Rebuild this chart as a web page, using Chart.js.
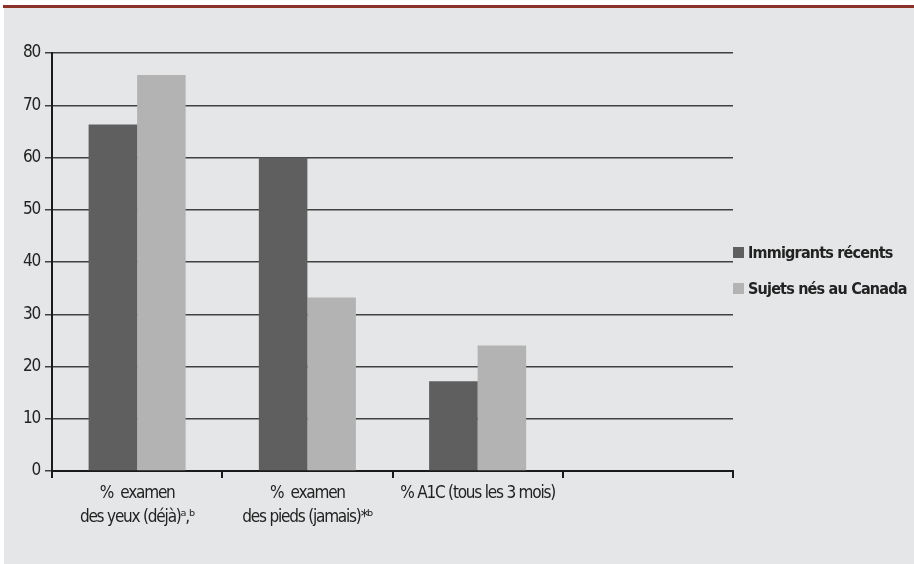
<!DOCTYPE html>
<html>
<head>
<meta charset="utf-8">
<script src="https://cdn.jsdelivr.net/npm/chart.js@4"></script>
<style>
  html, body { margin: 0; padding: 0; background: #fff; }
  #wrap { position: relative; width: 914px; height: 564px; }
  #legend { position: absolute; left: 733px; top: 234px; font-family: "Liberation Sans Narrow", "DejaVu Sans Condensed", sans-serif; font-size: 16px; font-weight: bold; letter-spacing: -0.8px; color: #222; }
  #legend div { display: flex; align-items: center; height: 36px; white-space: nowrap; }
  #legend span { display: inline-block; width: 11px; height: 11px; margin-right: 4px; }
</style>
</head>
<body>
<div id="wrap">
  <canvas id="c" width="914" height="564"></canvas>
  <div id="legend"></div>
</div>
<script>
const categories = [
  ['%  examen', 'des yeux (déjà)ᵃ,ᵇ'],
  ['%  examen', 'des pieds (jamais)*ᵇ'],
  '% A1C (tous les 3 mois)',
  ''
];
const seriesNames = ['Immigrants récents', 'Sujets nés au Canada'];
const immigrants = [66.3, 60.0, 17.2, null];
const canadiens = [75.8, 33.2, 24.0, null];
const colors = ['#5f5f5f', '#b3b3b3'];

const FONT = '"Liberation Sans Narrow", "DejaVu Sans Condensed", sans-serif';

const panelBg = {
  id: 'panelBg',
  beforeDraw(chart) {
    const ctx = chart.ctx;
    ctx.fillStyle = '#e5e6e7';
    ctx.fillRect(4, 8, 910, 556);
    ctx.fillStyle = '#8b3229';
    ctx.fillRect(3, 5, 911, 3);
    // narrower text, like the condensed face of the original
    ctx.letterSpacing = '-1.2px';
  },
  afterDraw(chart) {
    chart.ctx.letterSpacing = '0px';
  }
};

const chart = new Chart(document.getElementById('c'), {
  type: 'bar',
  data: {
    labels: categories,
    datasets: [
      { label: seriesNames[0], data: immigrants, backgroundColor: colors[0] },
      { label: seriesNames[1], data: canadiens, backgroundColor: colors[1] }
    ]
  },
  options: {
    responsive: false,
    animation: false,
    events: [],
    layout: { padding: { left: 0, top: 53, right: 181, bottom: 0 } },
    datasets: { bar: { categoryPercentage: 0.57, barPercentage: 1.0 } },
    plugins: { legend: { display: false }, tooltip: { enabled: false } },
    scales: {
      y: {
        min: 0, max: 80,
        ticks: { stepSize: 10, color: '#222', padding: 5, font: { family: FONT, size: 17 } },
        grid: { color: '#404040', lineWidth: 1.5, tickLength: 7, drawTicks: true },
        border: { color: '#1a1a1a', width: 2 },
        afterFit(scale) { scale.width = 52; }
      },
      x: {
        ticks: { color: '#222', padding: 3, maxRotation: 0, autoSkip: false, font: { family: FONT, size: 17, lineHeight: 1.45 } },
        grid: { drawOnChartArea: false, drawTicks: true, tickLength: 7, color: '#1a1a1a', lineWidth: 2, offset: true },
        border: { color: '#1a1a1a', width: 2 },
        afterFit(scale) { scale.height = 564 - 53 - 418; }
      }
    }
  },
  plugins: [panelBg]
});

const legend = document.getElementById('legend');
seriesNames.forEach((name, i) => {
  const row = document.createElement('div');
  row.innerHTML = '<span style="background:' + colors[i] + '"></span>' + name;
  legend.appendChild(row);
});
</script>
</body>
</html>
